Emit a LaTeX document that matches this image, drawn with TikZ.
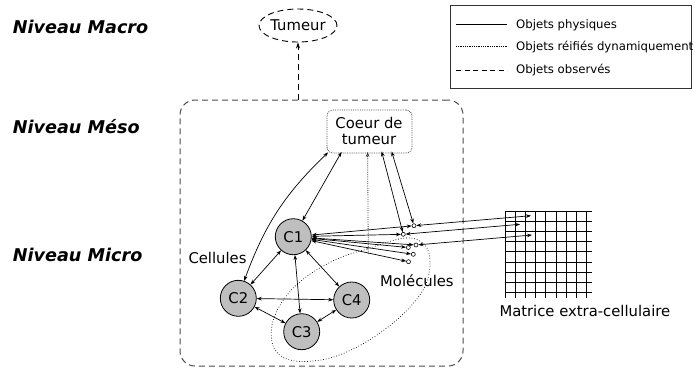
\documentclass[tikz,border=0pt]{standalone}
\usepackage{fontspec}
\setmainfont{DejaVu Sans}[ItalicFont={DejaVu Sans Oblique},BoldFont={DejaVu Sans Bold},BoldItalicFont={DejaVu Sans Bold Oblique}]
\usetikzlibrary{arrows.meta,calc,shapes.geometric}
\begin{document}
\begin{tikzpicture}[x=1pt,y=-1pt,
  lbl/.style={inner sep=0pt,font=\fontsize{14.8}{16}\selectfont},
  lev/.style={inner sep=0pt,anchor=base west,font=\fontsize{17.6}{20}\selectfont\bfseries\itshape},
  leg/.style={inner sep=0pt,anchor=base west,font=\fontsize{11.7}{13}\selectfont},
  cell/.style={circle,draw,fill=gray!50,minimum size=36pt,inner sep=0pt,line width=0.8pt,font=\fontsize{14.8}{16}\selectfont},
  mol/.style={circle,draw,minimum size=4pt,inner sep=0pt,line width=0.6pt},
  phys/.style={line width=0.7pt,{Stealth[length=5pt,width=3.6pt]}-{Stealth[length=5pt,width=3.6pt]}},
  obsline/.style={line width=0.9pt,dash pattern=on 6pt off 4pt},
  reif/.style={line width=0.8pt,densely dotted,draw=black!75}
]
\useasboundingbox (0,0) rectangle (695,368);

% level labels
\node[lev] (macro) at (12.7,33.3) {Niveau Macro};
\node[lev] (meso) at (12.7,133.3) {Niveau Méso};
\node[lev] (micro) at (12.7,261.7) {Niveau Micro};

% legend
\node[draw=black!80,line width=0.9pt,minimum width=241pt,minimum height=83pt,inner sep=0pt] (legbox) at (570.5,46.5) {};
\coordinate (l1a) at (456,24); \coordinate (l1b) at (507,24);
\coordinate (l2a) at (456,46.7); \coordinate (l2b) at (507,46.7);
\coordinate (l3a) at (456,70); \coordinate (l3b) at (507,70);
\draw[line width=0.7pt] (l1a) -- (l1b);
\draw[line width=0.8pt,densely dotted] (l2a) -- (l2b);
\draw[line width=0.8pt,dash pattern=on 5pt off 3.5pt] (l3a) -- (l3b);
\node[leg] (leg1) at (516,28.3) {Objets physiques};
\node[leg] (leg2) at (516,50) {Objets réifiés dynamiquement};
\node[leg] (leg3) at (516,73.3) {Objets observés};

% macro
\node[ellipse,draw,obsline,minimum width=70pt,minimum height=33pt,inner sep=0pt,font=\fontsize{14.8}{16}\selectfont] (tumeur) at (298,25.5) {Tumeur};

% meso box
\node[draw=black!70,line width=1pt,dash pattern=on 6pt off 4pt,rounded corners=15pt,minimum width=283pt,minimum height=266pt,inner sep=0pt] (mesobox) at (321.5,233) {};
\draw[obsline,-{Stealth[length=6pt,width=4pt]}] (tumeur.south |- mesobox.north) -- (tumeur);

% coeur
\node[reif,rounded corners=6pt,minimum width=85pt,minimum height=43pt,inner sep=0pt,draw] (coeur) at (369.5,131.5) {};
\node[lbl,align=center] (coeurtxt) at (369,131) {Coeur de\\tumeur};

% cells
\node[cell] (C1) at (293.3,236.7) {C1};
\node[cell] (C2) at (238.3,298.3) {C2};
\node[cell] (C3) at (301.7,331.7) {C3};
\node[cell] (C4) at (351.7,300) {C4};

\node[lbl,anchor=base west] (cellules) at (188.3,263.3) {Cellules};
\node[lbl,anchor=base west] (molecules) at (380,286.7) {Molécules};

% molecule zone
\draw[line width=0.7pt,dotted] plot[smooth cycle,tension=0.6] coordinates {
  (405,238) (367,249) (337,259) (306,277) (284,299) (272,325) (275,350) (295,361)
  (330,358) (366,342) (400,317) (423,290) (430,265) (425,245)};

% molecules
\node[mol] (ma) at (414,225.7) {};
\node[mol] (mb) at (403.3,234.3) {};
\node[mol] (mc) at (416,245) {};
\node[mol] (md) at (408.3,247.5) {};
\node[mol] (me) at (413.3,254.3) {};
\node[mol] (mf) at (408.5,261.7) {};

% coeur anchor points
\coordinate (kC2) at ([xshift=1.5pt,yshift=1pt]coeur.south west);
\coordinate (kC1) at ([xshift=15pt,yshift=1.5pt]coeur.south west);
\coordinate (kD) at ([xshift=41pt,yshift=1.5pt]coeur.south west);
\coordinate (kB) at ([xshift=55pt,yshift=2pt]coeur.south west);
\coordinate (kA) at ([xshift=65pt,yshift=2pt]coeur.south west);
\coordinate (dstart) at (368.3,254);

% cell links
\draw[phys] (C1) -- (kC1);
\draw[phys] (C2) to[bend left=13] (kC2);
\draw[phys] (C1) -- (C2);
\draw[phys] (C1) -- (C3);
\draw[phys] (C1) -- (C4);
\draw[phys] (C2) -- (C4);
\draw[phys] (C2) -- (C3);
\draw[phys] (C3) -- (C4);

% dotted reified arrow
\draw[reif,-{Stealth[length=5pt,width=3.6pt]}] (dstart) -- (kD);

% molecules to coeur
\draw[phys] (mb) -- (kB);
\draw[phys] (ma) -- (kA);

% C1 to molecules
\foreach \m in {ma,mb,mc,md,me,mf} {\draw[phys] (C1) -- (\m);}

% matrix
\foreach \i in {0,...,8} {
  \draw[line width=0.8pt] (505+10.2*\i,211) -- (505+10.2*\i,297.5);
  \draw[line width=0.8pt] (505,211+10.2*\i) -- (592,211+10.2*\i);
}
\coordinate (x1) at (531,215.7);
\coordinate (x2) at (520,224.3);
\coordinate (x3) at (532,235);
\draw[phys] (ma) -- (x1);
\draw[phys] (mb) -- (x2);
\draw[phys] (mc) -- (x3);
\node[lbl,anchor=base west] (matrice) at (499.3,316) {Matrice extra-cellulaire};
\end{tikzpicture}
\end{document}
